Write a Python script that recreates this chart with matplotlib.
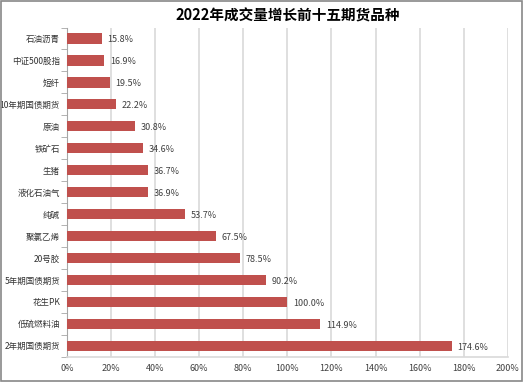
import matplotlib.pyplot as plt
from matplotlib.ticker import FixedLocator, PercentFormatter
import numpy as np

plt.rcParams['font.family'] = ['Noto Sans CJK SC', 'DejaVu Sans']

# data, top to bottom as drawn
names = ['石油沥青', '中证500股指', '短纤', '10年期国债期货', '原油', '铁矿石', '生猪',
         '液化石油气', '纯碱', '聚氯乙烯', '20号胶', '5年期国债期货', '花生PK',
         '低硫燃料油', '2年期国债期货']
growth = [15.8, 16.9, 19.5, 22.2, 30.8, 34.6, 36.7, 36.9, 53.7, 67.5, 78.5,
          90.2, 100.0, 114.9, 174.6]

bar_color = '#C0504D'
grid_color = '#D9D9D9'
axis_color = '#A6A6A6'

fig = plt.figure(figsize=(5.23, 3.82), dpi=100)
ax = fig.add_axes([0.128, 0.066, 0.843, 0.862])

y = np.arange(len(names))
ax.barh(y, growth, height=0.47, color=bar_color, zorder=3)

for yi, v in zip(y, growth):
    ax.annotate(f'{v:.1f}%', (v, yi), xytext=(4, -1), textcoords='offset points',
                va='center', ha='left', fontsize=6.5, color='#404040')

ax.set_xlim(0, 200)
ax.set_ylim(len(names) - 0.5, -0.5)
ax.set_xticks(np.arange(0, 201, 20))
ax.xaxis.set_major_formatter(PercentFormatter(decimals=0))
ax.set_yticks(y)
ax.set_yticklabels(names)
ax.yaxis.set_minor_locator(FixedLocator(np.arange(-0.5, len(names), 1)))

ax.tick_params(axis='y', which='major', length=0, pad=5, labelsize=6.1, labelcolor='#333333')
ax.tick_params(axis='y', which='minor', length=4, color=axis_color, direction='out')
ax.tick_params(axis='x', length=0, pad=5, labelsize=6.5, labelcolor='#404040')

ax.grid(axis='x', color=grid_color, linewidth=1.2, zorder=0)
for s in ['top', 'right']:
    ax.spines[s].set_visible(False)
ax.spines['left'].set_color(axis_color)
ax.spines['bottom'].set_color(grid_color)
ax.spines['bottom'].set_linewidth(1.2)

ax.set_title('2022年成交量增长前十五期货品种', fontsize=10.5, fontweight='bold', pad=5)

# outer frame
fig.patches.append(plt.Rectangle((0.002, 0.003), 0.996, 0.994, transform=fig.transFigure,
                                 fill=False, edgecolor='#888888', linewidth=1.2))

fig.savefig('out.png', dpi=100)
